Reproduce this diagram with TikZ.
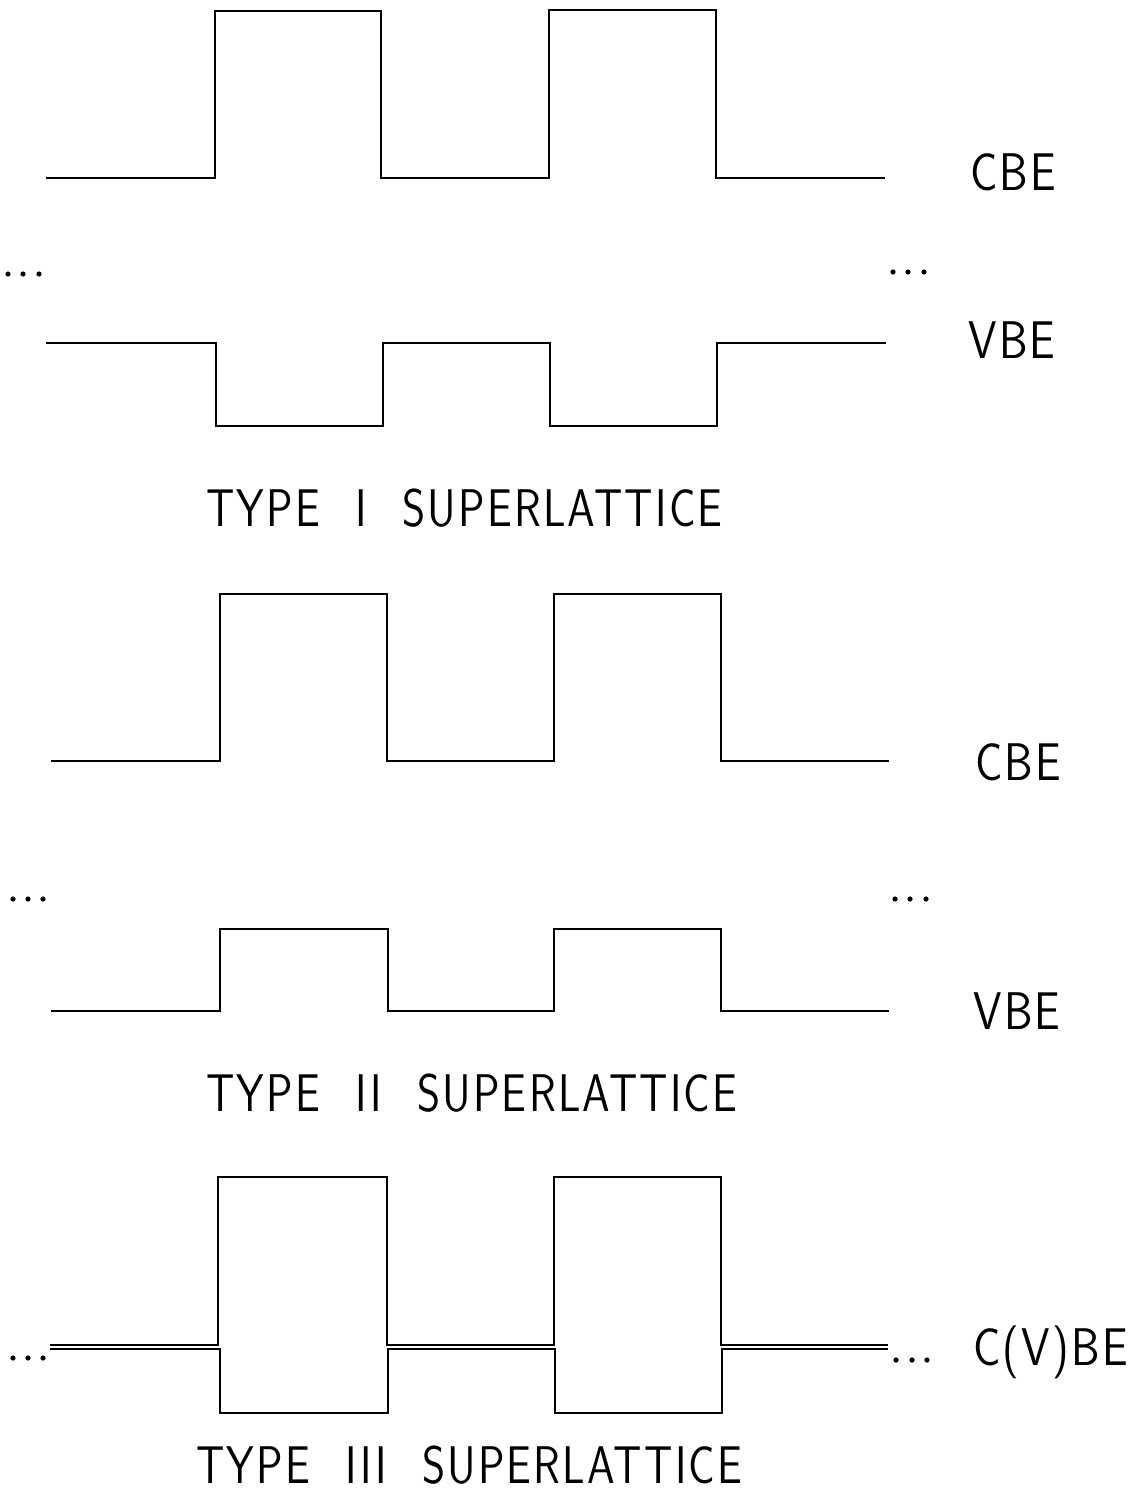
\documentclass[tikz,border=0pt]{standalone}
\usepackage{fontspec}
\setsansfont{Latin Modern Sans}[LetterSpace=5]
\begin{document}
\begin{tikzpicture}[x=0.5pt,y=-0.5pt,
  wave/.style={line width=1pt,line join=miter},
  thinwave/.style={line width=0.7pt,line join=miter},
  lbl/.style={font=\sffamily\fontsize{26.5}{27}\selectfont,inner sep=0pt,anchor=base west,xscale=0.86},
  title/.style={lbl,xscale=0.97},
  dot/.style={fill=black,draw=none}]
\useasboundingbox (0,0) rectangle (1141,1493);

% ---- Type I ----
\draw[wave] (46,178) -- (215,178) -- (215,11) -- (381,11) -- (381,178) -- (549,178)
  -- (549,10) -- (716,10) -- (716,178) -- (885,178);
\draw[wave] (46,343) -- (216,343) -- (216,426) -- (383,426) -- (383,343) -- (550,343)
  -- (550,426) -- (717,426) -- (717,343) -- (886,343);
\foreach \x in {8,23,39} \fill[dot] (\x,274) circle (2.6);
\foreach \x in {893,908,924} \fill[dot] (\x,272) circle (2.6);
\node[lbl] (cbe1) at (970,191) {CBE};
\node[lbl] (vbe1) at (968,358) {VBE};
\node[title] (t1) at (206,526) {TYPE\hspace{0.8em}I\hspace{0.8em}SUPERLATTICE};

% ---- Type II ----
\draw[wave] (51,761) -- (220,761) -- (220,594) -- (387,594) -- (387,761) -- (554,761)
  -- (554,594) -- (721,594) -- (721,761) -- (889,761);
\draw[wave] (51,1011) -- (220,1011) -- (220,929) -- (388,929) -- (388,1011) -- (554,1011)
  -- (554,929) -- (721,929) -- (721,1011) -- (889,1011);
\foreach \x in {13,28,43} \fill[dot] (\x,899) circle (2.6);
\foreach \x in {895,910,926} \fill[dot] (\x,899) circle (2.6);
\node[lbl] (cbe2) at (975,780) {CBE};
\node[lbl] (vbe2) at (973,1029) {VBE};
\node[title] (t2) at (206,1111) {TYPE\hspace{0.8em}II\hspace{0.8em}SUPERLATTICE};

% ---- Type III ----
\draw[thinwave] (50,1345) -- (218,1345) -- (218,1177) -- (387,1177) -- (387,1345) -- (554,1345)
  -- (554,1177) -- (721,1177) -- (721,1345) -- (888,1345);
\draw[thinwave] (50,1349) -- (220,1349) -- (220,1413) -- (388,1413) -- (388,1349) -- (555,1349)
  -- (555,1413) -- (722,1413) -- (722,1349) -- (888,1349);
\foreach \x in {13,28,43} \fill[dot] (\x,1358) circle (2.6);
\foreach \x in {896,912,927} \fill[dot] (\x,1360) circle (2.6);
\node[lbl] (cvbe) at (973,1365) {C(V)BE};
\node[title] (t3) at (196,1483) {TYPE\hspace{0.8em}III\hspace{0.8em}SUPERLATTICE};
\end{tikzpicture}
\end{document}
